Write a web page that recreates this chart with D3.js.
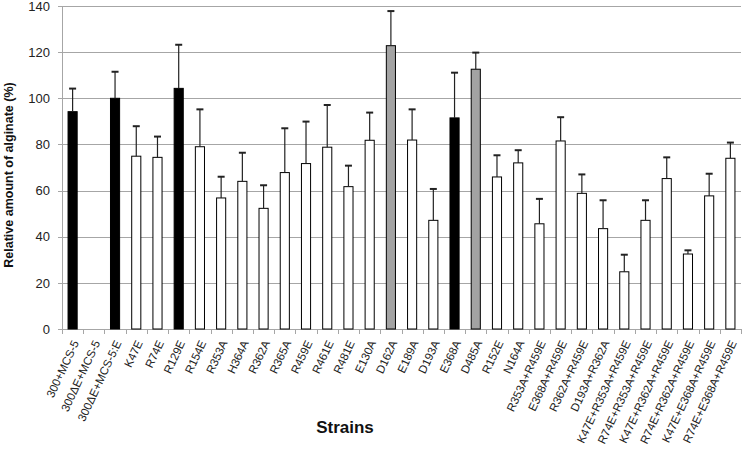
<!DOCTYPE html>
<html>
<head>
<meta charset="utf-8">
<script src="https://cdn.jsdelivr.net/npm/d3@7"></script>
<style>
  body { margin: 0; background: #fff; }
  text { font-family: Arial, "Liberation Sans", sans-serif; }
</style>
</head>
<body>
<div id="chart"></div>
<script>
// strain names along the x axis
const strains = ['300+MCS-5', '300\u0394E+MCS-5', '300\u0394E+MCS-5:E', 'K47E', 'R74E', 'R129E', 'R154E',
    'R353A', 'H364A', 'R362A', 'R365A', 'R459E', 'R461E', 'R481E', 'E130A', 'D162A', 'E189A', 'D193A',
    'E368A', 'D485A', 'R152E', 'N164A', 'R353A+R459E', 'E368A+R459E', 'R362A+R459E', 'D193A+R362A',
    'K47E+R353A+R459E', 'R74E+R353A+R459E', 'K47E+R362A+R459E', 'R74E+R362A+R459E',
    'K47E+E368A+R459E', 'R74E+E368A+R459E'];

// relative amount of alginate (%)
const amounts = [94.2, 0, 100, 74.9, 74.4, 104.3, 79, 56.8, 64, 52.3, 67.8, 71.7, 78.8, 61.7, 81.8, 122.8,
    81.9, 47.1, 91.5, 112.6, 65.9, 72, 45.6, 81.5, 58.8, 43.5, 24.8, 47.1, 65.2, 32.5, 57.7, 74];

// standard deviation (upper error bar only)
const errors = [10, 0, 11.5, 13, 9, 18.9, 16.2, 9.2, 12.4, 10, 19.2, 18.2, 18.3, 9.1, 12, 15, 13.3, 13.6,
    19.6, 7.2, 9.4, 5.5, 10.8, 10.3, 8.2, 12.3, 7.4, 8.7, 9.2, 1.6, 9.6, 6.8];

// bar fill group: k = black (controls), g = gray, w = white
const groups = ['k', 'k', 'k', 'w', 'w', 'k', 'w', 'w', 'w', 'w', 'w', 'w', 'w', 'w', 'w', 'g', 'w', 'w',
    'k', 'g', 'w', 'w', 'w', 'w', 'w', 'w', 'w', 'w', 'w', 'w', 'w', 'w'];

const yTicks = [0, 20, 40, 60, 80, 100, 120, 140];

const width = 742, height = 451;
const margin = { top: 6, right: 1, bottom: 122, left: 62 };
const fills = { k: '#000000', g: '#a3a3a3', w: '#ffffff' };

const svg = d3.select('#chart').append('svg')
    .attr('width', width)
    .attr('height', height);

const x = d3.scaleBand()
    .domain(strains)
    .range([margin.left, width - margin.right])
    .paddingInner(0.57)
    .paddingOuter(0.285);

const y = d3.scaleLinear()
    .domain([0, 140])
    .range([height - margin.bottom, margin.top]);

// gridlines
svg.append('g')
    .selectAll('line')
    .data(yTicks)
    .enter().append('line')
    .attr('x1', margin.left - 4)
    .attr('x2', width - margin.right)
    .attr('y1', d => Math.round(y(d)) + 0.5)
    .attr('y2', d => Math.round(y(d)) + 0.5)
    .attr('stroke', '#a6a6a6')
    .attr('stroke-width', 1);

// y axis line
svg.append('line')
    .attr('x1', margin.left + 0.5).attr('x2', margin.left + 0.5)
    .attr('y1', y(140)).attr('y2', y(0))
    .attr('stroke', '#a6a6a6');

// y tick labels
svg.append('g')
    .selectAll('text')
    .data(yTicks)
    .enter().append('text')
    .attr('x', margin.left - 12)
    .attr('y', d => y(d))
    .attr('dy', '0.36em')
    .attr('text-anchor', 'end')
    .attr('font-size', 13)
    .attr('fill', '#222')
    .text(d => d);

// x ticks at band boundaries
const step = x.step();
svg.append('g')
    .selectAll('line')
    .data(d3.range(strains.length + 1))
    .enter().append('line')
    .attr('x1', i => Math.round(margin.left + i * step) + 0.5)
    .attr('x2', i => Math.round(margin.left + i * step) + 0.5)
    .attr('y1', y(0))
    .attr('y2', y(0) + 5)
    .attr('stroke', '#a6a6a6');

// bars
svg.append('g')
    .selectAll('rect')
    .data(strains)
    .enter().append('rect')
    .filter((d, i) => amounts[i] > 0)
    .attr('x', d => x(d))
    .attr('y', d => y(amounts[strains.indexOf(d)]))
    .attr('width', x.bandwidth())
    .attr('height', d => y(0) - y(amounts[strains.indexOf(d)]))
    .attr('fill', d => fills[groups[strains.indexOf(d)]])
    .attr('stroke', '#000')
    .attr('stroke-width', 1);

// error bars
const err = svg.append('g')
    .selectAll('g')
    .data(strains.filter((d, i) => amounts[i] > 0))
    .enter().append('g')
    .attr('stroke', '#222')
    .attr('stroke-width', 1.2);

err.append('line')
    .attr('x1', d => x(d) + x.bandwidth() / 2)
    .attr('x2', d => x(d) + x.bandwidth() / 2)
    .attr('y1', d => y(amounts[strains.indexOf(d)]))
    .attr('y2', d => { const i = strains.indexOf(d); return y(amounts[i] + errors[i]); });

err.append('line')
    .attr('x1', d => x(d) + x.bandwidth() / 2 - 3.5)
    .attr('x2', d => x(d) + x.bandwidth() / 2 + 3.5)
    .attr('y1', d => { const i = strains.indexOf(d); return y(amounts[i] + errors[i]); })
    .attr('y2', d => { const i = strains.indexOf(d); return y(amounts[i] + errors[i]); })
    .attr('stroke-width', 2);

// x tick labels, rotated
svg.append('g')
    .selectAll('text')
    .data(strains)
    .enter().append('text')
    .attr('transform', d => `translate(${x(d) + x.bandwidth() / 2 + 3},${y(0) + 12}) rotate(-65)`)
    .attr('text-anchor', 'end')
    .attr('dy', '0.35em')
    .attr('font-size', 11.5)
    .attr('fill', '#222')
    .text(d => d);

// axis titles
svg.append('text')
    .attr('transform', `translate(13,175) rotate(-90)`)
    .attr('text-anchor', 'middle')
    .attr('font-size', 12.5)
    .attr('font-weight', 'bold')
    .attr('fill', '#111')
    .text('Relative amount of alginate (%)');

svg.append('text')
    .attr('x', 345)
    .attr('y', 433)
    .attr('text-anchor', 'middle')
    .attr('font-size', 17)
    .attr('font-weight', 'bold')
    .attr('fill', '#111')
    .text('Strains');
</script>
</body>
</html>
